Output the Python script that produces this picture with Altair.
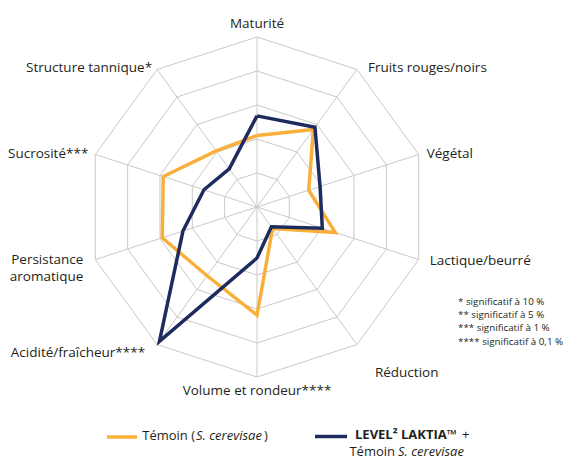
import math
import altair as alt
import pandas as pd

# ---------------- data ----------------
axis_names = ["Maturité", "Fruits rouges/noirs", "Végétal", "Lactique/beurré",
              "Réduction", "Volume et rondeur****", "Acidité/fraîcheur****",
              "Persistance\naromatique", "Sucrosité***", "Structure tannique*"]
temoin = [2.1, 2.82, 1.6, 2.42, 0.78, 3.18, 2.5, 2.93, 2.9, 2.04]
laktia = [2.68, 2.9, 1.95, 2.02, 0.72, 1.5, 4.88, 2.29, 1.64, 1.39]
rings = [1, 2, 3, 4, 5]
footnotes = ["* significatif à 10 %", "** significatif à 5 %",
             "*** significatif à 1 %", "**** significatif à 0,1 %"]

# ---------------- layout ----------------
W, H = 559, 451          # plot area
CX, CY = 249, 199        # centre in plot px
U = 34.0                 # px per unit
FONT = "Open Sans"
TXT = "#231F20"
ORANGE = "#F9B03A"
NAVY = "#1E2B5E"
GRID = "#C9C9C9"

# label alignment and pixel offsets from the outer vertex
label_align = ["center", "left", "left", "left", "left", "center", "right", "right", "right", "right"]
label_dx = [0, 11, 8, 11, 18, 0, -12, -12, -7, -5]
label_dy = [-13, -1, 0, 1, 28, 14, 8, 0, 0, -1]

N = len(axis_names)


def polar(v, i):
    a = 2 * math.pi * i / N
    return v * math.sin(a), v * math.cos(a)


def ux(px):  # page px -> unit x
    return (px - 8 - CX) / U


def uy(py):  # page px -> unit y
    return (CY - (py - 8)) / U


xs = alt.Scale(domain=[-CX / U, (W - CX) / U], nice=False, zero=False)
ys = alt.Scale(domain=[(CY - H) / U, CY / U], nice=False, zero=False)


def X(f="x"):
    return alt.X(f + ":Q", scale=xs, axis=None)


def Y(f="y"):
    return alt.Y(f + ":Q", scale=ys, axis=None)


# grid rings
ring_rows = []
for r in rings:
    for k in range(N + 1):
        x, y = polar(r, k % N)
        ring_rows.append({"ring": r, "k": k, "x": x, "y": y})
ring_df = pd.DataFrame(ring_rows)

spoke_rows = []
for i in range(N):
    x, y = polar(max(rings), i)
    spoke_rows.append({"x": 0.0, "y": 0.0, "x2": x, "y2": y})
spoke_df = pd.DataFrame(spoke_rows)


def series_df(vals):
    rows = []
    for k in range(N + 1):
        x, y = polar(vals[k % N], k % N)
        rows.append({"k": k, "x": x, "y": y})
    return pd.DataFrame(rows)


lab_rows = []
for i, name in enumerate(axis_names):
    x, y = polar(max(rings), i)
    lab_rows.append({"label": name, "align": label_align[i],
                     "x": x + label_dx[i] / U, "y": y - label_dy[i] / U})
lab_df = pd.DataFrame(lab_rows)

rings_layer = alt.Chart(ring_df).mark_line(color=GRID, strokeWidth=1).encode(
    x=X(), y=Y(), detail="ring:N", order="k:Q")
spokes_layer = alt.Chart(spoke_df).mark_rule(color=GRID, strokeWidth=1).encode(
    x=X(), y=Y(), x2="x2:Q", y2="y2:Q")

orange_layer = alt.Chart(series_df(temoin)).mark_line(
    color=ORANGE, strokeWidth=3.5, strokeJoin="miter").encode(x=X(), y=Y(), order="k:Q")
navy_layer = alt.Chart(series_df(laktia)).mark_line(
    color=NAVY, strokeWidth=3.5, strokeJoin="miter").encode(x=X(), y=Y(), order="k:Q")

label_layers = []
for al in ["left", "center", "right"]:
    label_layers.append(
        alt.Chart(lab_df).transform_filter(alt.datum.align == al).mark_text(
            align=al, baseline="middle", font=FONT, fontSize=13.5, color=TXT,
            lineBreak="\n", lineHeight=17).encode(x=X(), y=Y(), text="label:N"))

foot_df = pd.DataFrame({"text": footnotes,
                        "x": [ux(458)] * 4,
                        "y": [uy(p) for p in [302, 315, 328, 342]]})
foot_layer = alt.Chart(foot_df).mark_text(
    align="left", baseline="middle", font=FONT, fontSize=9.8, color=TXT).encode(
    x=X(), y=Y(), text="text:N")

# legend
leg_lines = pd.DataFrame({"x": [ux(107), ux(315)], "x2": [ux(137), ux(347)],
                          "y": [uy(437), uy(436.5)], "c": [ORANGE, NAVY]})
leg_line_layer = alt.Chart(leg_lines).mark_rule(strokeWidth=3.5).encode(
    x=X(), x2="x2:Q", y=Y(), color=alt.Color("c:N", scale=None))


def txt(items, align="left", **kw):
    df = pd.DataFrame({"text": [t for t, _, _ in items],
                       "x": [ux(a) for _, a, _ in items],
                       "y": [uy(b) for _, _, b in items]})
    return alt.Chart(df).mark_text(align=align, baseline="middle", font=FONT,
                                   fontSize=13, color=TXT, **kw).encode(
        x=X(), y=Y(), text="text:N")


leg_right = txt([("Témoin (", 195, 436), ("Témoin", 395, 452)], align="right")
leg_normal = txt([(")", 264, 436), ("+", 462, 435)])
leg_italic = txt([("S. cerevisae", 196, 436), ("S. cerevisae", 398, 452)], fontStyle="italic")
leg_bold = txt([("LEVEL² LAKTIA™", 355, 435)], fontWeight="bold")

chart = alt.layer(rings_layer, spokes_layer, orange_layer, navy_layer,
                  *label_layers, foot_layer, leg_line_layer,
                  leg_right, leg_normal, leg_italic, leg_bold).properties(
    width=W, height=H, padding=0, autosize="none"
).configure_view(stroke=None)

chart.save("out.html", embed_options={"renderer": "svg", "actions": False})
